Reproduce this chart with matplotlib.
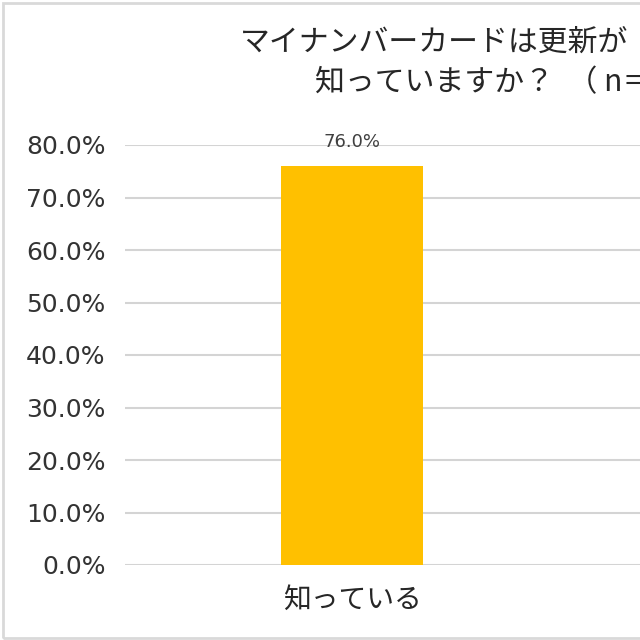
import matplotlib
matplotlib.use("Agg")
import matplotlib.pyplot as plt
from matplotlib.patches import Rectangle

plt.rcParams['font.family'] = ['Noto Sans CJK JP', 'DejaVu Sans']

# Data
categories = ["知っている"]
values = [76.0]
title_line1 = "マイナンバーカードは更新が"
title_line2 = "知っていますか？  （ n＝"
yticks = [0, 10, 20, 30, 40, 50, 60, 70, 80]
ytick_labels = [f"{v:.1f}%" for v in yticks]

W = H = 640
fig = plt.figure(figsize=(6.4, 6.4), dpi=100)
fig.patch.set_facecolor("white")

# Axes extends beyond the right edge (cropped chart)
ax_left, ax_bottom, ax_top = 125 / W, 1 - 565 / H, 1 - 145 / H
ax_width = 908 / W
ax = fig.add_axes([ax_left, ax_bottom, ax_width, ax_top - ax_bottom])

x = list(range(len(categories)))
bars = ax.bar(x, values, width=0.313, color="#FFC000", zorder=3)
ax.set_xlim(-0.5, 1.5)
ax.set_ylim(0, 80)
ax.set_yticks(yticks)
ax.set_yticklabels(ytick_labels, fontsize=18, color="#333333", family="DejaVu Sans")
ax.set_xticks(x)
ax.set_xticklabels(categories, fontsize=20, color="#262626")
ax.tick_params(axis="y", length=0, pad=14)
ax.tick_params(axis="x", length=0, pad=14)
ax.grid(axis="y", color="#d4d4d4", linewidth=1.5, zorder=0)
for s in ax.spines.values():
    s.set_visible(False)

for xi, v in zip(x, values):
    ax.annotate(f"{v:.1f}%", (xi, v), xytext=(0, 17.5), textcoords="offset points",
                ha="center", va="center", fontsize=13, color="#404040",
                family="DejaVu Sans")

# Title (cropped on the right)
fig.text(240 / W, 1 - 42 / H, title_line1, fontsize=21.5, color="#262626",
         ha="left", va="center")
fig.text(315 / W, 1 - 83 / H, title_line2, fontsize=21.5, color="#262626",
         ha="left", va="center")

# Light frame around chart area
fig.patches.append(Rectangle((2.5 / W, 2.5 / H), 2.0, 1 - 5 / H,
                             transform=fig.transFigure, fill=False,
                             edgecolor="#d9d9d9", linewidth=2))

fig.savefig("out.png", dpi=100, facecolor="white")
